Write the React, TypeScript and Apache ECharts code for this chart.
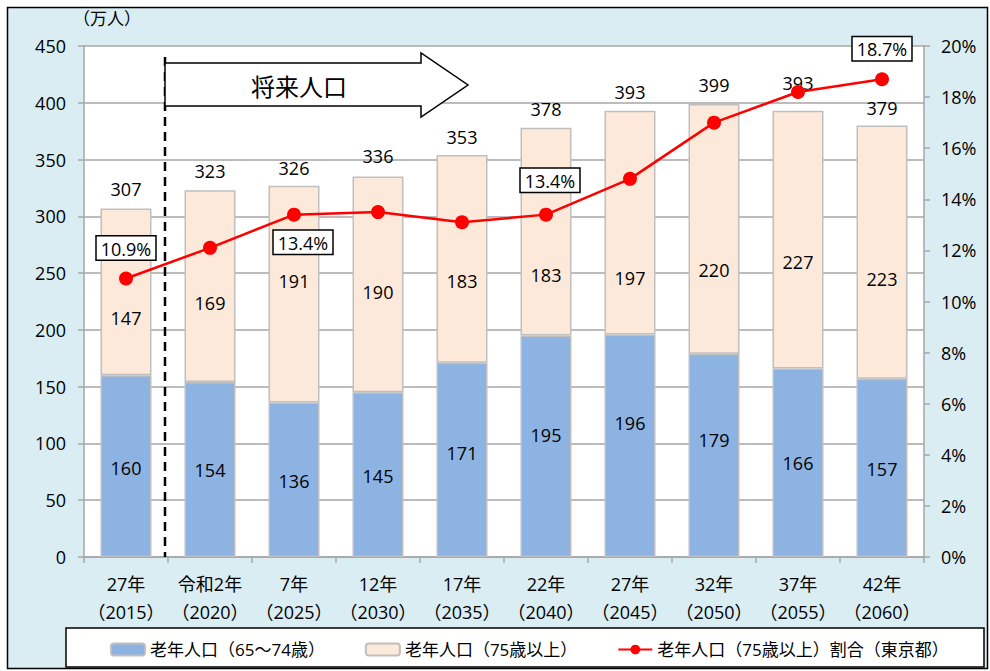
import React, { useEffect, useRef } from "react";
import * as echarts from "echarts";

const categories = [
  "27年\n（2015）", "令和2年\n（2020）", "7年\n（2025）", "12年\n（2030）", "17年\n（2035）",
  "22年\n（2040）", "27年\n（2045）", "32年\n（2050）", "37年\n（2055）", "42年\n（2060）",
];
const age65to74 = [160, 154, 136, 145, 171, 195, 196, 179, 166, 157];
const age75plus = [147, 169, 191, 190, 183, 183, 197, 220, 227, 223];
const totals = [307, 323, 326, 336, 353, 378, 393, 399, 393, 379];
const ratio75 = [10.9, 12.1, 13.4, 13.5, 13.1, 13.4, 14.8, 17.0, 18.2, 18.7];
const ratioLabelIdx = [0, 2, 5, 9];

const blueOffsets = [2, 0, 1, 1, -7, -11, -23, -15, 0, 1];
const peachOffsets = [26, 17, -13, 8, 22, 43, 55, 41, 22, 27];
const totalOffsets = [0, 0, 0, 0, 0, 0, 0, 0, -9, 0];

const FONT = "'Open Sans', 'Noto Sans CJK JP', sans-serif";
const CJK = "'Noto Sans CJK JP', 'Noto Sans', sans-serif";

export default function App() {
  const ref = useRef<HTMLDivElement>(null);
  useEffect(() => {
    const chart = echarts.init(ref.current!, null, { renderer: "svg" });
    const txt = { fontFamily: FONT, color: "#000", fontWeight: "normal" as const };
    chart.setOption({
      animation: false,
      backgroundColor: "#ffffff",
      textStyle: { fontFamily: FONT },
      grid: { left: 84, right: 66, top: 46, bottom: 114, backgroundColor: "#ffffff", show: true, borderWidth: 0 },
      graphic: [
        {
          type: "rect", z: -10, silent: true,
          shape: { x: 7.5, y: 7.5, width: 980, height: 661 },
          style: { fill: "#DAEDF3", stroke: "#000", lineWidth: 1.5 },
        },
        {
          type: "rect", z: 1, silent: true,
          shape: { x: 66, y: 628, width: 918, height: 39 },
          style: { fill: "#ffffff", stroke: "#000", lineWidth: 1.5 },
        },
        {
          type: "text", left: 73, top: 9, z: 5,
          style: { text: "（万人）", font: `17px ${CJK}`, fill: "#000" },
        },
        {
          type: "line", z: 20, silent: true,
          shape: { x1: 165, y1: 57, x2: 165, y2: 557 },
          style: { stroke: "#000", lineWidth: 2.5, lineDash: [9, 6] },
        },
        {
          type: "polygon", z: 20, silent: true,
          shape: { points: [[165, 63], [421, 63], [421, 53], [468, 85], [421, 117], [421, 106], [165, 106]] },
          style: { fill: "#ffffff", stroke: "#000", lineWidth: 1.5 },
        },
        {
          type: "text", z: 21, x: 299, y: 85,
          style: { text: "将来人口", font: `24px ${CJK}`, fill: "#000", align: "center", verticalAlign: "middle" },
        },
      ],
      legend: {
        left: 105, top: 636, itemWidth: 34, itemHeight: 12, itemGap: 40, z: 5,
        textStyle: { ...txt, fontSize: 17 },
        data: [
          { name: "老年人口（65～74歳）" },
          { name: "老年人口（75歳以上）" },
          { name: "老年人口（75歳以上）割合（東京都）" },
        ],
      },
      xAxis: {
        type: "category",
        data: categories,
        axisLine: { lineStyle: { color: "#A6A6A6", width: 1.5 } },
        axisTick: { show: true, length: 6, lineStyle: { color: "#A6A6A6", width: 1.5 } },
        axisLabel: { ...txt, fontSize: 18, margin: 13, lineHeight: 28, interval: 0 },
      },
      yAxis: [
        {
          type: "value", min: 0, max: 450, interval: 50,
          axisLine: { show: true, lineStyle: { color: "#A6A6A6", width: 1.5 } },
          axisTick: { show: true, length: 6, lineStyle: { color: "#A6A6A6", width: 1.5 } },
          axisLabel: { ...txt, fontSize: 18, margin: 18 },
          splitLine: { lineStyle: { color: "#A6A6A6", width: 1.5 } },
        },
        {
          type: "value", min: 0, max: 20, interval: 2,
          axisLine: { show: true, lineStyle: { color: "#A6A6A6", width: 1.5 } },
          axisTick: { show: true, length: 6, lineStyle: { color: "#A6A6A6", width: 1.5 } },
          axisLabel: { ...txt, fontSize: 18, margin: 17, formatter: "{value}%" },
          splitLine: { show: false },
        },
      ],
      series: [
        {
          name: "老年人口（65～74歳）",
          type: "bar", stack: "pop", barWidth: 51,
          itemStyle: { color: "#8DB3E2", borderColor: "#BFBFBF", borderWidth: 1.5 },
          label: { show: true, position: "inside", ...txt, fontSize: 18, textBorderWidth: 0 },
          data: age65to74.map((v, i) => ({ value: v, label: { offset: [0, blueOffsets[i]] } })),
        },
        {
          name: "老年人口（75歳以上）",
          type: "bar", stack: "pop", barWidth: 51,
          itemStyle: { color: "#FDE9D9", borderColor: "#BFBFBF", borderWidth: 1.5 },
          label: { show: true, position: "inside", ...txt, fontSize: 18, textBorderWidth: 0 },
          data: age75plus.map((v, i) => ({ value: v, label: { offset: [0, peachOffsets[i]] } })),
        },
        {
          name: "total",
          type: "scatter", symbolSize: 0, z: 3,
          itemStyle: { opacity: 1 },
          label: { show: true, position: "top", distance: 10, ...txt, fontSize: 18, opacity: 1 },
          data: totals.map((v, i) => ({ value: v, label: { offset: [0, totalOffsets[i]] } })),
        },
        {
          name: "老年人口（75歳以上）割合（東京都）",
          type: "line", yAxisIndex: 1, z: 10,
          symbol: "circle", symbolSize: 14,
          lineStyle: { color: "#FF0000", width: 2.5 },
          itemStyle: { color: "#FF0000" },
          data: ratio75.map((v, i) => {
            const item: any = { value: v };
            if (ratioLabelIdx.includes(i)) {
              const below = i === 2;
              item.label = {
                show: true,
                position: below ? "bottom" : "top",
                distance: below ? 9 : 12,
                offset: i === 5 ? [4, -4] : i === 2 ? [9, 0] : [0, 0],
                formatter: (p: any) => p.value.toFixed(1) + "%",
                ...txt, fontSize: 18,
                backgroundColor: "#ffffff",
                borderColor: "#000",
                borderWidth: 1.5,
                padding: [3, 4, 2, 4],
              };
            }
            return item;
          }),
        },
      ],
    });
    return () => chart.dispose();
  }, []);
  return (
    <div
      ref={ref}
      style={{ position: "absolute", left: 0, top: 0, width: 990, height: 671 }}
    />
  );
}
